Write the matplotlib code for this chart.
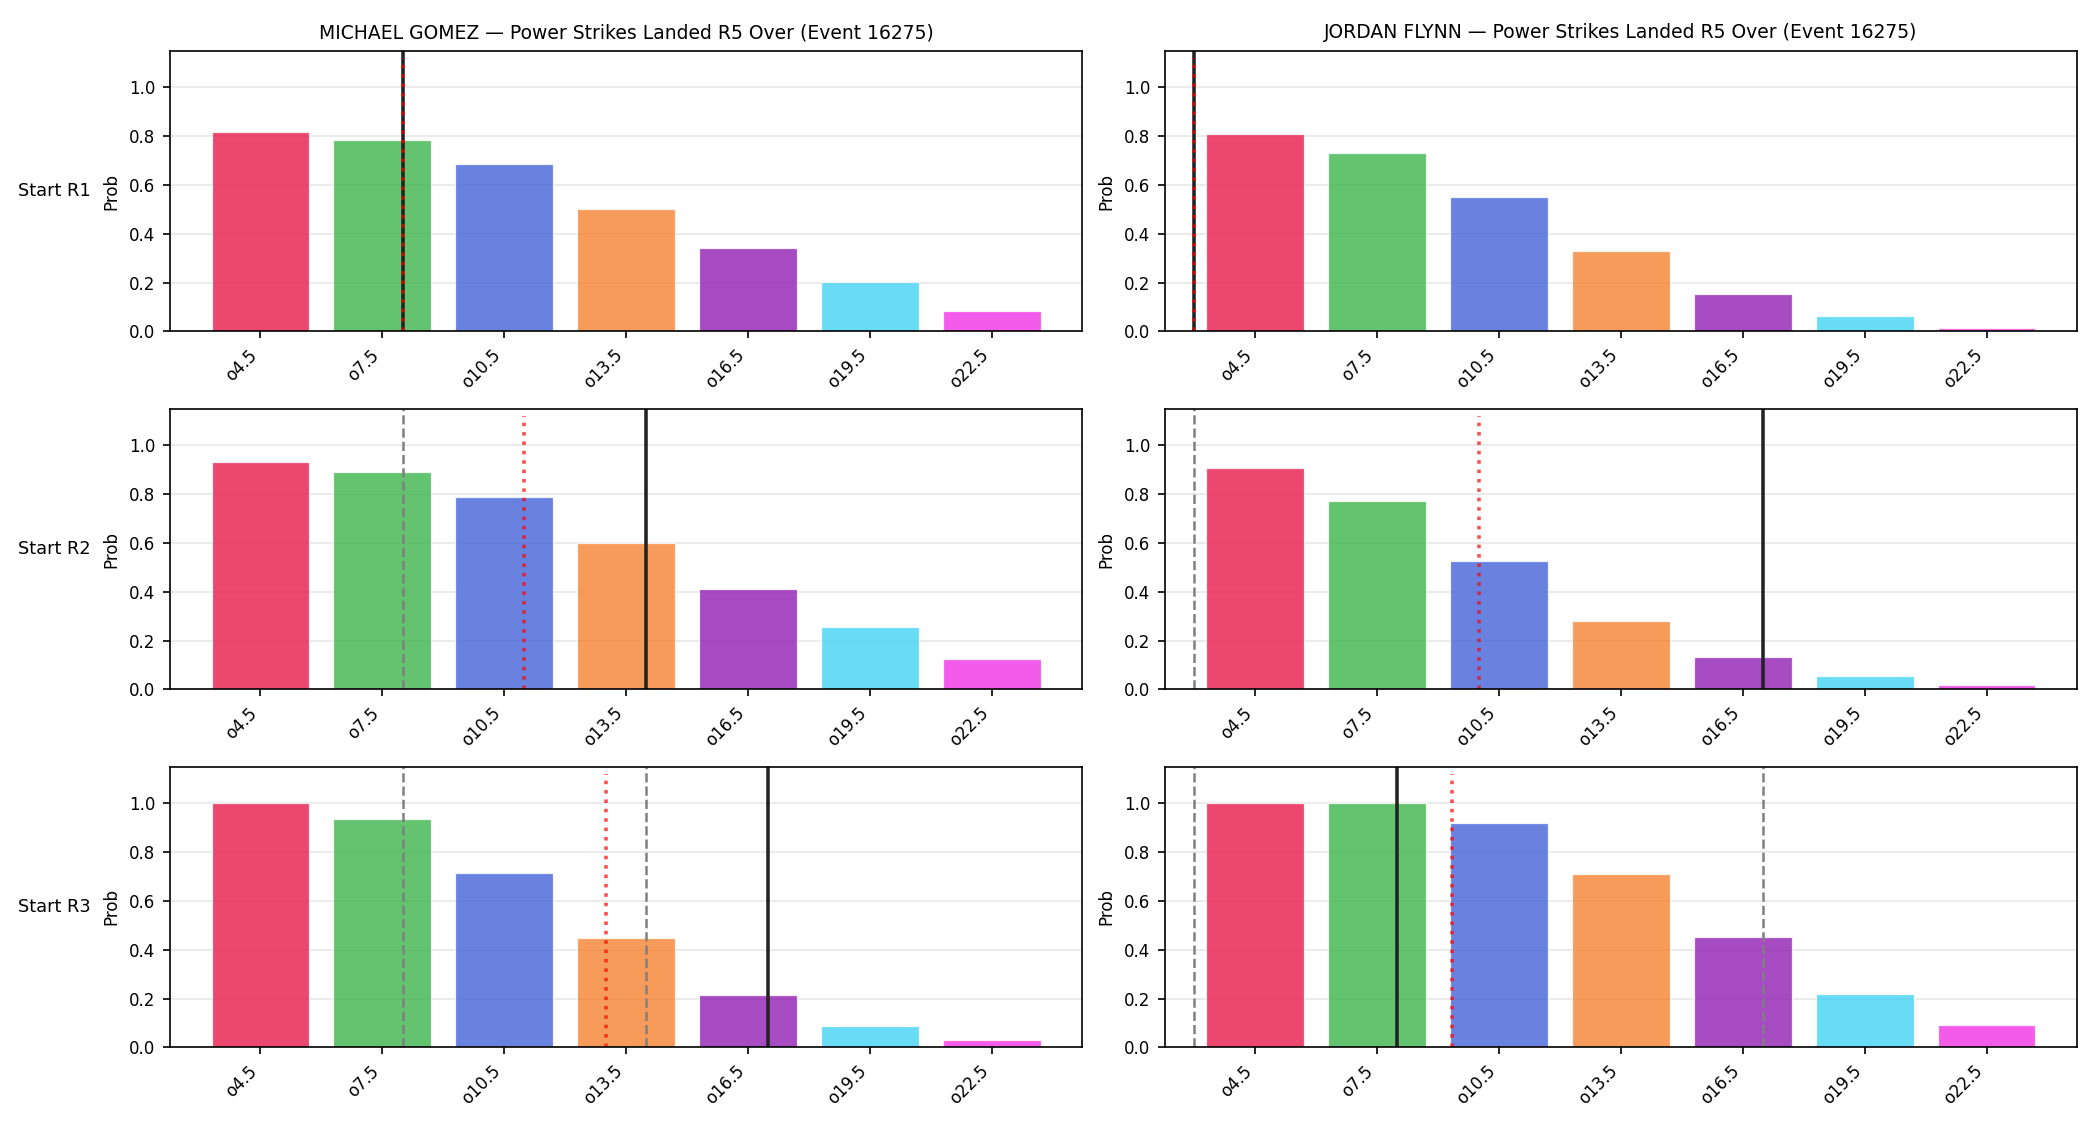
import numpy as np
import matplotlib
matplotlib.use('Agg')
import matplotlib.pyplot as plt

# lines offered, and the colour of each bar
lines = [4.5, 7.5, 10.5, 13.5, 16.5, 19.5, 22.5]
labels = [f'o{v}' for v in lines]
colors = ['#e6194b', '#3cb44b', '#4363d8', '#f58231', '#911eb4', '#42d4f4', '#f032e6']

fighters = ['MICHAEL GOMEZ', 'JORDAN FLYNN']
starts = ['Start R1', 'Start R2', 'Start R3']
event_id = 16275

# over probabilities, one row per start round
gomez_probs = [
    [0.816, 0.784, 0.685, 0.500, 0.340, 0.204, 0.085],
    [0.931, 0.890, 0.787, 0.599, 0.411, 0.256, 0.125],
    [1.000, 0.936, 0.715, 0.448, 0.214, 0.087, 0.030],
]
flynn_probs = [
    [0.810, 0.732, 0.549, 0.329, 0.152, 0.062, 0.015],
    [0.907, 0.772, 0.527, 0.282, 0.131, 0.053, 0.019],
    [1.000, 1.000, 0.917, 0.710, 0.454, 0.219, 0.092],
]

# markers in strike counts: current (solid), earlier rounds (dashed), projection (dotted)
gomez_current = [8, 14, 17]
gomez_prev = [[], [8], [8, 14]]
gomez_proj = [8, 11, 13]
flynn_current = [3, 17, 8]
flynn_prev = [[], [3], [3, 17]]
flynn_proj = [3, 10, 9.35]

probs = [gomez_probs, flynn_probs]
current = [gomez_current, flynn_current]
prev = [gomez_prev, flynn_prev]
proj = [gomez_proj, flynn_proj]


def to_pos(v):
    # strike count -> position on the categorical axis
    return (v - lines[0]) / (lines[1] - lines[0])


fig, axes = plt.subplots(3, 2, figsize=(14, 7.5), dpi=150)
x = np.arange(len(lines))

for c in range(2):
    for r in range(3):
        ax = axes[r, c]
        ax.bar(x, probs[c][r], color=colors, alpha=0.8, edgecolor='white', linewidth=0.6)
        for v in prev[c][r]:
            ax.axvline(to_pos(v), color='gray', linestyle='--', linewidth=1.2)
        ax.axvline(to_pos(current[c][r]), color='#222222', linewidth=1.7)
        ax.axvline(to_pos(proj[c][r]), ymax=0.975, color='red', alpha=0.7,
                   linestyle=':', linewidth=1.7)
        ax.set_ylim(0, 1.15)
        ax.set_xticks(x)
        ax.set_xticklabels(labels, rotation=45, ha='right', fontsize=8)
        ax.tick_params(axis='y', labelsize=8)
        ax.set_ylabel('Prob', fontsize=8)
        ax.grid(axis='y', alpha=0.3)
        ax.set_axisbelow(True)
        if r == 0:
            ax.set_title(f'{fighters[c]} — Power Strikes Landed R5 Over (Event {event_id})',
                         fontsize=9)
        if c == 0:
            ax.text(-0.087, 0.5, starts[r], transform=ax.transAxes,
                    ha='right', va='center', fontsize=8.5)

plt.subplots_adjust(left=0.081, right=0.989, top=0.955, bottom=0.069,
                    wspace=0.091, hspace=0.275)
plt.savefig('out.png', dpi=150)
